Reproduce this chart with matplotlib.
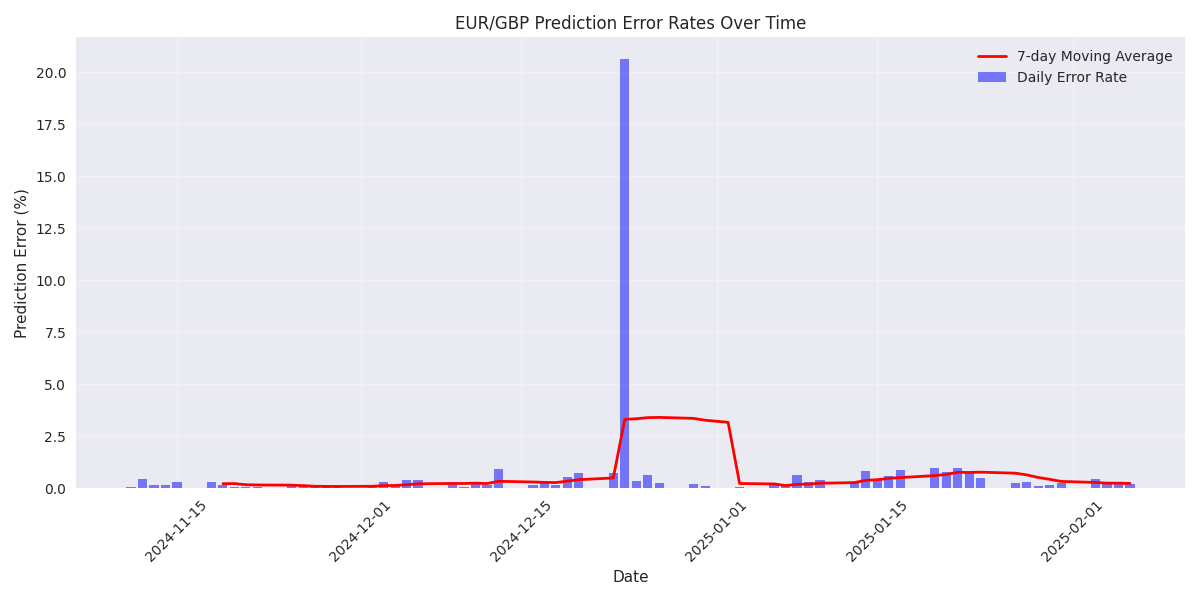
import pandas as pd
import matplotlib
matplotlib.use("Agg")
import matplotlib.pyplot as plt

plt.style.use("seaborn-v0_8")
plt.rcParams["font.family"] = ["DejaVu Sans"]

# Daily prediction error (%) - trading days only
dates = [
    "2024-11-11", "2024-11-12", "2024-11-13", "2024-11-14", "2024-11-15",
    "2024-11-18", "2024-11-19", "2024-11-20", "2024-11-21", "2024-11-22",
    "2024-11-25", "2024-11-26", "2024-11-27", "2024-11-28", "2024-11-29",
    "2024-12-02", "2024-12-03", "2024-12-04", "2024-12-05", "2024-12-06",
    "2024-12-09", "2024-12-10", "2024-12-11", "2024-12-12", "2024-12-13",
    "2024-12-16", "2024-12-17", "2024-12-18", "2024-12-19", "2024-12-20",
    "2024-12-23", "2024-12-24", "2024-12-25", "2024-12-26", "2024-12-27",
    "2024-12-30", "2024-12-31", "2025-01-02", "2025-01-03",
    "2025-01-06", "2025-01-07", "2025-01-08", "2025-01-09", "2025-01-10",
    "2025-01-13", "2025-01-14", "2025-01-15", "2025-01-16", "2025-01-17",
    "2025-01-20", "2025-01-21", "2025-01-22", "2025-01-23", "2025-01-24",
    "2025-01-27", "2025-01-28", "2025-01-29", "2025-01-30", "2025-01-31",
    "2025-02-03", "2025-02-04", "2025-02-05", "2025-02-06",
]
error_rate = [
    0.05, 0.43, 0.15, 0.15, 0.29,
    0.29, 0.15, 0.08, 0.05, 0.06,
    0.10, 0.12, 0.08, 0.10, 0.07,
    0.10, 0.29, 0.15, 0.38, 0.38,
    0.22, 0.05, 0.22, 0.15, 0.91,
    0.15, 0.25, 0.15, 0.53, 0.72,
    0.72, 20.65, 0.34, 0.63, 0.24,
    0.19, 0.10, 0.02, 0.05,
    0.19, 0.10, 0.63, 0.29, 0.38,
    0.24, 0.82, 0.38, 0.58, 0.87,
    0.96, 0.77, 0.96, 0.77, 0.48,
    0.24, 0.29, 0.10, 0.15, 0.24,
    0.43, 0.24, 0.24, 0.19,
]

df = pd.DataFrame({"date": pd.to_datetime(dates), "error": error_rate})
df["ma7"] = df["error"].rolling(7).mean()

fig, ax = plt.subplots(figsize=(12, 6), dpi=100)
ax.bar(df["date"], df["error"], width=0.8, color="blue", alpha=0.5, label="Daily Error Rate")
ax.plot(df["date"], df["ma7"], color="red", linewidth=2, label="7-day Moving Average")

ax.set_title("EUR/GBP Prediction Error Rates Over Time")
ax.set_xlabel("Date")
ax.set_ylabel("Prediction Error (%)")
ax.legend(loc="upper right")
ax.grid(True, alpha=0.3)
plt.xticks(rotation=45)
plt.tight_layout()
plt.savefig("out.png")
